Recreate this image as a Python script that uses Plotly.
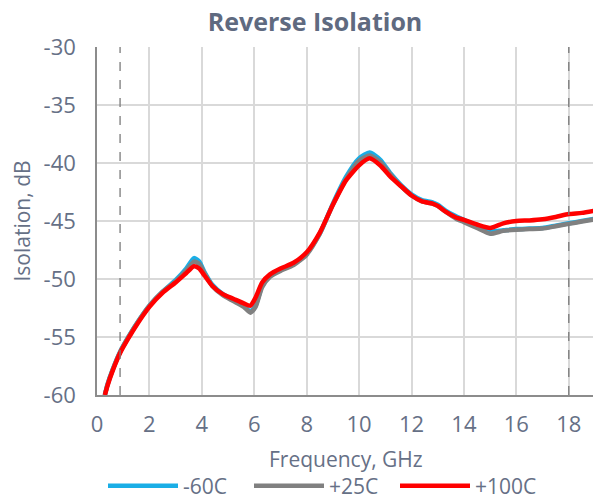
import plotly.graph_objects as go

freq = [0.3, 0.4, 0.6, 0.9, 1.2, 1.5, 2, 2.5, 3, 3.4, 3.7, 3.9, 4.1, 4.4, 4.8, 5.2, 5.6, 5.85, 6.05, 6.3,
        6.6, 7, 7.5, 8, 8.5, 9, 9.5, 10, 10.4, 10.8, 11.2, 11.6, 12, 12.4, 12.8, 13.0, 13.3, 13.7, 14,
        14.5, 15, 15.5, 16, 16.5, 17, 17.5, 18, 18.5, 19]

iso_m60 = [-60, -59.1, -57.8, -56.2, -55.0, -53.9, -52.3, -51.1, -50.1, -49.1, -48.2, -48.5, -49.4, -50.5,
           -51.3, -51.8, -52.3, -52.8, -52.3, -50.6, -49.7, -49.2, -48.7, -47.8, -46.1, -43.5, -41.2,
           -39.6, -39.1, -39.7, -40.9, -41.9, -42.7, -43.2, -43.4, -43.6, -44.1, -44.6, -44.9, -45.4,
           -45.9, -45.8, -45.7, -45.65, -45.6, -45.4, -45.2, -45.0, -44.8]

iso_p25 = [-60, -59.1, -57.8, -56.2, -55.0, -53.9, -52.3, -51.1, -50.2, -49.3, -48.5, -48.7, -49.5, -50.6,
           -51.4, -51.9, -52.4, -52.9, -52.4, -50.7, -49.8, -49.3, -48.8, -47.9, -46.1, -43.6, -41.4,
           -39.8, -39.35, -39.9, -41.0, -42.0, -42.8, -43.3, -43.5, -43.7, -44.2, -44.8, -45.1, -45.6,
           -46.1, -45.85, -45.75, -45.7, -45.65, -45.45, -45.25, -45.05, -44.85]

iso_p100 = [-60, -59.2, -57.9, -56.3, -55.1, -54.0, -52.4, -51.2, -50.3, -49.5, -48.9, -49.1, -49.7, -50.6,
            -51.3, -51.7, -52.1, -52.3, -51.6, -50.3, -49.6, -49.1, -48.6, -47.7, -46.0, -43.6, -41.5,
            -40.2, -39.6, -40.2, -41.2, -42.0, -42.8, -43.3, -43.5, -43.7, -44.2, -44.7, -44.9, -45.3,
            -45.6, -45.2, -45.0, -44.95, -44.85, -44.65, -44.4, -44.3, -44.1]

series_names = ["-60C", "+25C", "+100C"]
series_colors = ["#1aaee6", "#808080", "#ff0000"]
marker_lines = [0.88, 18]

x_ticks = [0, 2, 4, 6, 8, 10, 12, 14, 16, 18]
x_labels = ["0", "2", "4", "6", "8", "10", "12", "14", "16", "18"]
y_ticks = [-60, -55, -50, -45, -40, -35, -30]
y_labels = ["-60", "-55", "-50", "-45", "-40", "-35", "-30"]
x_title = "Frequency, GHz"
y_title = "Isolation, dB"
chart_title = "Reverse Isolation"

text_color = "#667086"
title_color = "#5f6a80"
font_family = "Open Sans"

# the page adds an 8px body margin, so the figure is 8px smaller than the window
W, H = 593, 492
PLOT_H = 492 - 39 - 105

fig = go.Figure()
for name, color, ys in zip(series_names, series_colors, [iso_m60, iso_p25, iso_p100]):
    fig.add_trace(go.Scatter(x=freq, y=ys, mode="lines", name=name,
                             line=dict(color=color, width=4.5, shape="spline", smoothing=0.6)))

for xv in marker_lines:
    fig.add_shape(type="line", x0=xv, x1=xv, y0=0, y1=1, xref="x", yref="paper",
                  line=dict(color="#7a7a7a", width=1.3, dash="dash"), layer="above")

fig.add_shape(type="line", x0=1, x1=1, y0=0, y1=1, xref="paper", yref="paper",
              line=dict(color="#d9d9d9", width=1.5), layer="below")

# x-axis title, placed below the tick labels
fig.add_annotation(text=x_title, x=0.5, xref="paper", xanchor="center",
                   y=-64 / PLOT_H, yref="paper", yanchor="middle", showarrow=False,
                   font=dict(size=21, color=text_color, family=font_family))

fig.update_layout(
    width=W, height=H,
    margin=dict(l=89, r=6, t=39, b=105, autoexpand=False),
    paper_bgcolor="white", plot_bgcolor="white",
    font=dict(family=font_family, color=text_color, size=21),
    title=dict(text="<b>" + chart_title + "</b>", x=307 / W, xref="container", xanchor="center",
               y=1 - 14 / H, yref="container", yanchor="middle",
               font=dict(size=25, color=title_color, family=font_family)),
    showlegend=True,
    legend=dict(orientation="h", x=95 / W, xref="container", xanchor="left",
                y=14 / H, yref="container", yanchor="middle",
                font=dict(size=21, color=text_color), itemwidth=70,
                entrywidth=61, entrywidthmode="pixels", tracegroupgap=0),
    xaxis=dict(range=[0, 19], tickvals=x_ticks, ticktext=x_labels, showgrid=True, gridcolor="#d9d9d9",
               gridwidth=1.5, showline=True, linecolor="#8c8c8c", linewidth=1.5, zeroline=False,
               ticks="", automargin=False, ticklabelstandoff=9,
               tickfont=dict(size=22)),
    yaxis=dict(range=[-60, -30], tickvals=y_ticks, ticktext=y_labels, showgrid=True, gridcolor="#d9d9d9",
               gridwidth=1.5, showline=True, linecolor="#8c8c8c", linewidth=1.5, zeroline=False,
               ticks="", automargin=False, ticklabelstandoff=15,
               title=dict(text=y_title, font=dict(size=21), standoff=7),
               tickfont=dict(size=22)),
)

fig.write_html("out.html")
